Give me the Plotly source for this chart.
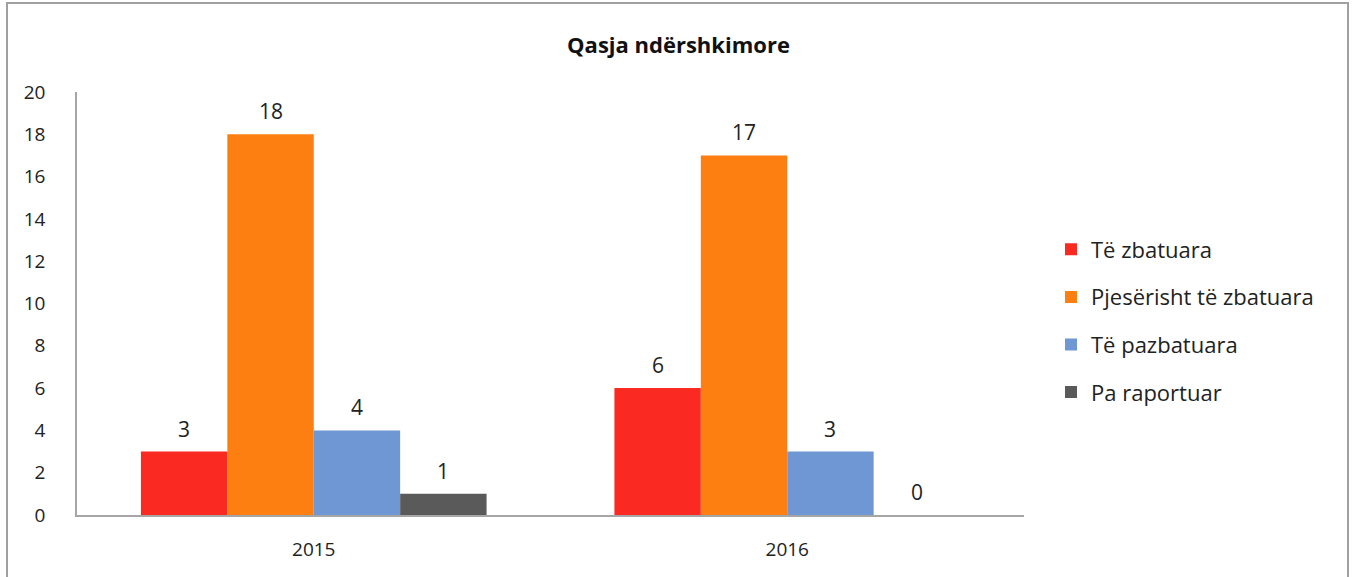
import plotly.graph_objects as go

years = ["2015", "2016"]
series_names = ["Të zbatuara", "Pjesërisht të zbatuara", "Të pazbatuara", "Pa raportuar"]
zbatuara = [3, 6]
pjeserisht = [18, 17]
pazbatuara = [4, 3]
pa_raportuar = [1, 0]
colors = ["#FA2A22", "#FE7F11", "#6E97D3", "#5A5A5A"]
title_text = "Qasja ndërshkimore"
y_ticks = list(range(0, 21, 2))

FONT = "'Open Sans', Lato, sans-serif"

W, H = 1357, 577
ml, mr, mt, mb = 77, 333, 92, 62
pw, ph = W - ml - mr, H - mt - mb
BARGAP = 0.27
all_series = [zbatuara, pjeserisht, pazbatuara, pa_raportuar]
n = len(all_series)
bar_px = pw / len(years) * (1 - BARGAP) / n

def px_x(p):
    return (p - ml) / pw

def px_y(p):
    return (H - mb - p) / ph

fig = go.Figure()
annotations = []
for i, (name, vals) in enumerate(zip(series_names, all_series)):
    fig.add_trace(go.Bar(
        x=years, y=vals, name=name,
        marker=dict(color=colors[i], line=dict(width=0)),
        legendgroup=name,
    ))
    for k, v in enumerate(vals):
        annotations.append(dict(
            x=k, y=v, xref="x", yref="y", text=str(v), showarrow=False,
            xanchor="center", yanchor="bottom",
            xshift=(i - (n - 1) / 2) * bar_px, yshift=7,
            font=dict(size=21, color="#222222", family=FONT),
        ))

fig.update_layout(
    width=W, height=H,
    margin=dict(l=ml, r=mr, t=mt, b=mb, autoexpand=False),
    paper_bgcolor="white", plot_bgcolor="white",
    font=dict(family=FONT, size=19, color="#222222"),
    barmode="group", bargap=BARGAP, bargroupgap=0,
    title=dict(text="<b>" + title_text + "</b>", x=0.5, xanchor="center",
               y=1 - 45 / H, yanchor="middle",
               font=dict(size=22, family=FONT, color="#111111")),
    xaxis=dict(type="category", showline=True, linecolor="#a6a6a6", linewidth=1.5,
               showgrid=False, ticks="", ticklabelstandoff=16,
               tickfont=dict(size=19), zeroline=False),
    yaxis=dict(range=[0, 20], tickvals=y_ticks, showline=True, linecolor="#a6a6a6",
               linewidth=1.5, showgrid=False, zeroline=False, ticks="",
               ticklabelstandoff=26, tickfont=dict(size=19)),
    legend=dict(x=px_x(1051), xanchor="left", y=px_y(321), yanchor="middle",
                font=dict(size=22, family=FONT), tracegroupgap=16,
                bgcolor="rgba(0,0,0,0)", itemwidth=30),
    annotations=annotations,
    shapes=[dict(type="rect", xref="paper", yref="paper",
                 x0=px_x(7), x1=px_x(1348), y0=px_y(620), y1=px_y(3),
                 line=dict(color="#a0a0a0", width=2), fillcolor="rgba(0,0,0,0)",
                 layer="below")],
)

fig.write_html("out.html", config={"displayModeBar": False},
               post_script="document.body.style.margin='0';document.body.style.overflow='hidden';")
